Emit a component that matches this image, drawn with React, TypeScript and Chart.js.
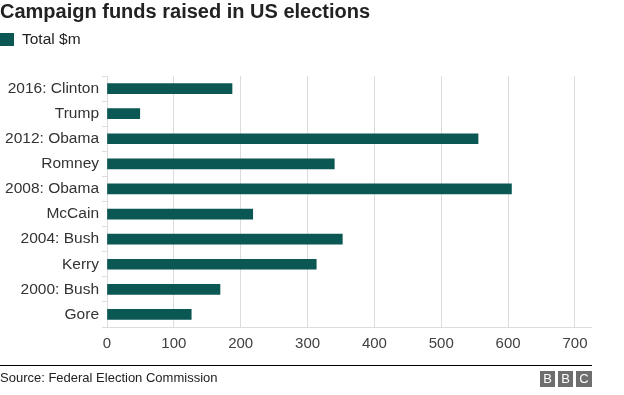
import React, { useEffect, useRef } from "react";
import { Chart, registerables } from "chart.js";

Chart.register(...registerables);

const categories = [
  "2016: Clinton",
  "Trump",
  "2012: Obama",
  "Romney",
  "2008: Obama",
  "McCain",
  "2004: Bush",
  "Kerry",
  "2000: Bush",
  "Gore",
];
const totals = [187, 49, 555, 340, 605, 218, 352, 313, 169, 126];
const seriesName = "Total $m";
const xTicks = [0, 100, 200, 300, 400, 500, 600, 700];

const BAR = "#0b5753";
const FONT = "'Liberation Sans', Arial, Helvetica, sans-serif";

export default function App() {
  const ref = useRef<HTMLCanvasElement | null>(null);

  useEffect(() => {
    document.body.style.margin = "0";
    const ctx = ref.current!;
    const chart = new Chart(ctx, {
      type: "bar",
      data: {
        labels: categories,
        datasets: [
          {
            label: seriesName,
            data: totals,
            backgroundColor: BAR,
            borderWidth: 0,
            barThickness: 10,
          },
        ],
      },
      options: {
        indexAxis: "y",
        animation: false,
        responsive: false,
        maintainAspectRatio: false,
        layout: { padding: { left: 0, top: 76, right: 33, bottom: 34 } },
        plugins: {
          legend: { display: false },
          tooltip: { enabled: false },
          title: { display: false },
        },
        scales: {
          x: {
            min: 0,
            max: 724,
            afterBuildTicks: (scale: any) => {
              scale.ticks = xTicks.map((v) => ({ value: v }));
            },
            afterFit: (scale: any) => {
              scale.height = 34;
            },
            grid: {
              color: "#dcdcdc",
              drawTicks: false,
              lineWidth: 1,
            },
            border: { display: true, color: "#dcdcdc" },
            ticks: {
              padding: 8,
              color: "#404040",
              font: { family: FONT, size: 15 },
            },
          },
          y: {
            afterFit: (scale: any) => {
              scale.width = 107;
            },
            grid: {
              display: true,
              drawOnChartArea: false,
              drawTicks: true,
              tickLength: 5,
              color: "#dcdcdc",
              offset: true,
            },
            border: { display: false },
            ticks: {
              padding: 3,
              color: "#333",
              font: { family: FONT, size: 15.5 },
            },
          },
        },
      },
    });
    return () => chart.destroy();
  }, []);

  return (
    <div
      style={{
        position: "relative",
        width: 624,
        height: 395,
        background: "#fff",
        overflow: "hidden",
        fontFamily: FONT,
      }}
    >
      <canvas
        ref={ref}
        width={624}
        height={395}
        style={{ position: "absolute", left: 0, top: 0, width: 624, height: 395 }}
      />
      <div
        style={{
          position: "absolute",
          left: 0,
          top: -1,
          fontSize: 20,
          lineHeight: "24px",
          fontWeight: "bold",
          color: "#222",
          whiteSpace: "nowrap",
        }}
      >
        Campaign funds raised in US elections
      </div>
      <div
        style={{
          position: "absolute",
          left: 0,
          top: 30,
          display: "flex",
          alignItems: "center",
          fontSize: 15.5,
          lineHeight: "18px",
          color: "#222",
        }}
      >
        <span
          style={{
            display: "inline-block",
            width: 14,
            height: 13,
            background: BAR,
            marginRight: 8,
          }}
        />
        <span>{seriesName}</span>
      </div>
      <div
        style={{
          position: "absolute",
          left: 0,
          top: 365,
          width: 592,
          height: 1,
          background: "#000",
        }}
      />
      <div
        style={{
          position: "absolute",
          left: 0,
          top: 370,
          fontSize: 13,
          lineHeight: "16px",
          color: "#222",
          whiteSpace: "nowrap",
        }}
      >
        Source: Federal Election Commission
      </div>
      <div
        style={{
          position: "absolute",
          left: 540,
          top: 371,
          display: "flex",
          gap: 3,
        }}
      >
        {["B", "B", "C"].map((ch, i) => (
          <div
            key={i}
            style={{
              width: i === 2 ? 16 : 15,
              height: 16,
              background: "#6e6e6e",
              color: "#fff",
              fontSize: 13,
              lineHeight: "16px",
              textAlign: "center",
            }}
          >
            {ch}
          </div>
        ))}
      </div>
    </div>
  );
}
